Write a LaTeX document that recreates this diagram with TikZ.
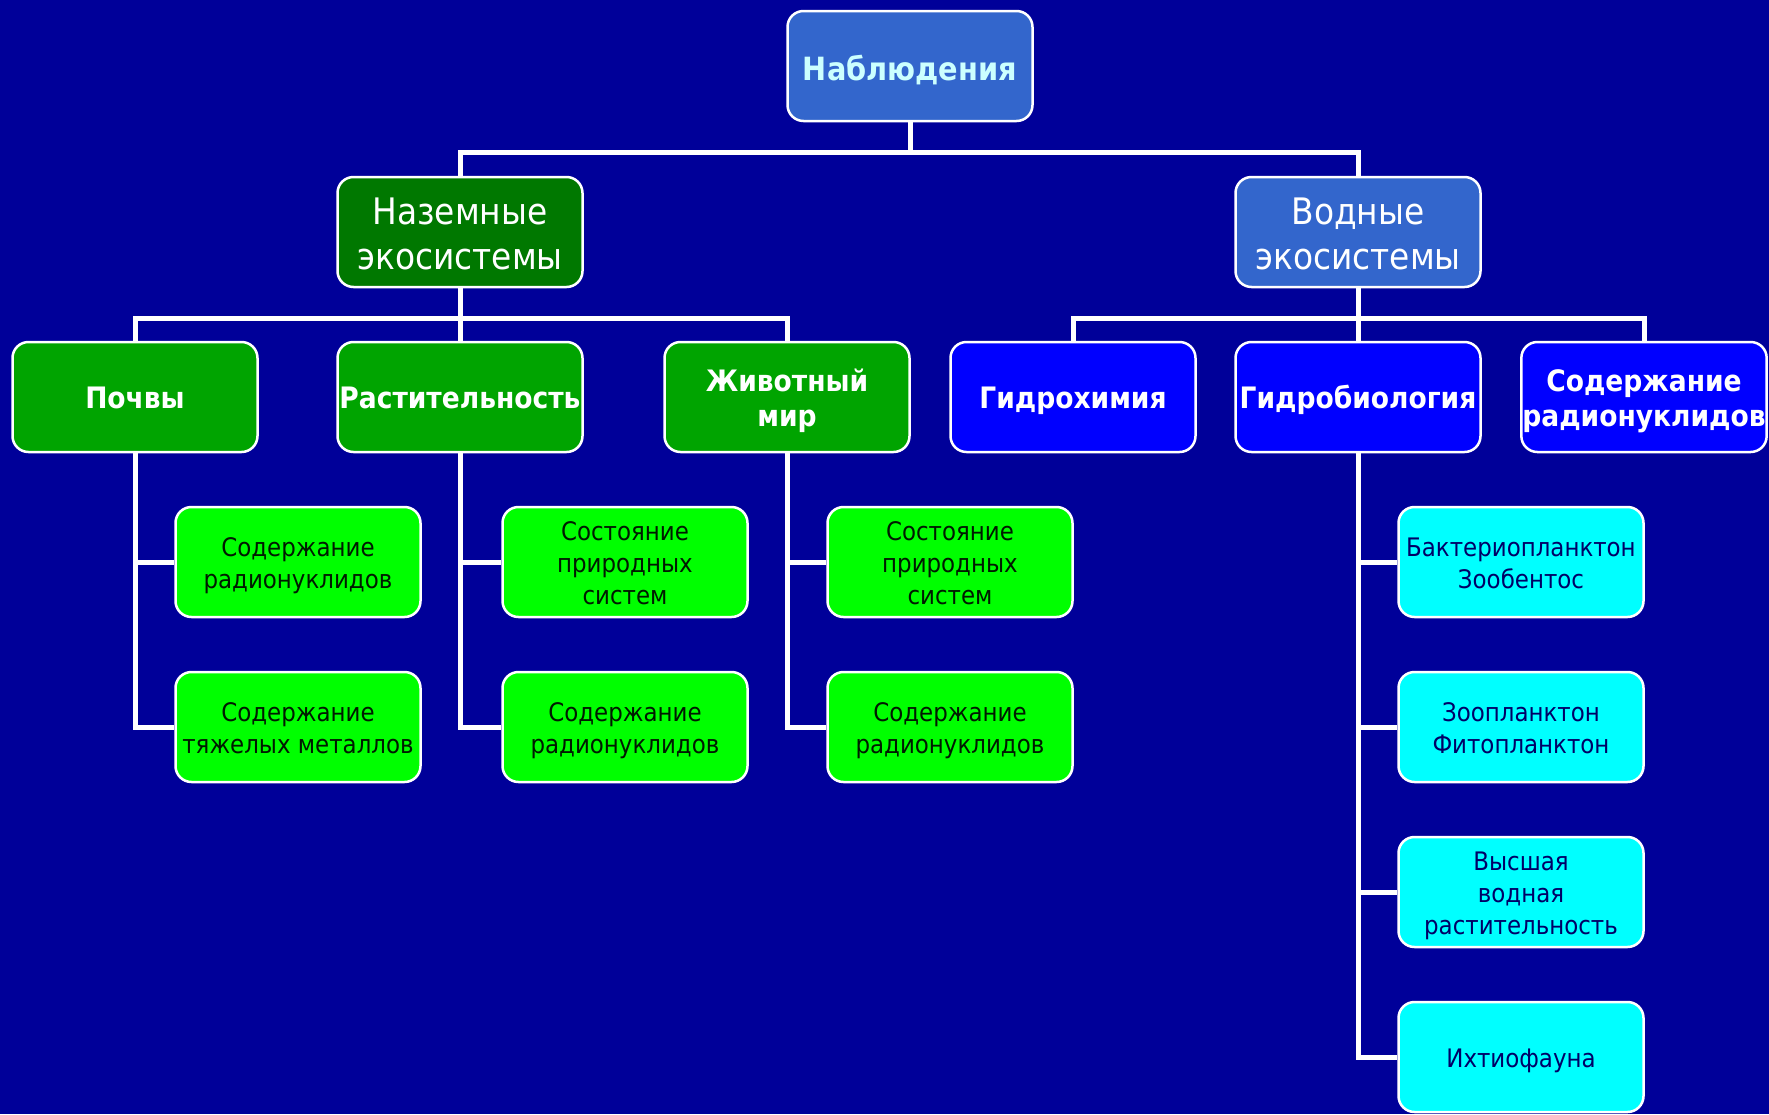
\documentclass[tikz,border=0pt]{standalone}
\usepackage{fontspec}
\setmainfont{DejaVu Sans Condensed}
\usetikzlibrary{backgrounds}
\definecolor{bgblue}{HTML}{000099}
\definecolor{midblue}{HTML}{3366CC}
\definecolor{pale}{HTML}{CCFFFF}
\definecolor{darkgr}{HTML}{007800}
\definecolor{medgr}{HTML}{00A400}
\definecolor{puregr}{HTML}{00FF00}
\definecolor{pureblue}{HTML}{0000FF}
\definecolor{cyanbox}{HTML}{00FFFF}
\definecolor{gtext}{HTML}{001A00}
\definecolor{ctext}{HTML}{000066}
\newcommand{\boxtxt}[2][-4.5pt]{\raisebox{#1}[\height][\depth]{\begin{tabular}{@{}c@{}}#2\end{tabular}}}
\begin{document}
\begin{tikzpicture}[x=1pt,y=-1pt,
  box/.style={rectangle, rounded corners=16pt, draw=white, line width=2.5pt,
    minimum width=245pt, minimum height=110pt, inner sep=1pt},
  lvlone/.style={box, fill=midblue, text=pale, font=\fontsize{32}{36}\selectfont\bfseries},
  lvltwoG/.style={box, fill=darkgr, text=white, font=\fontsize{36.5}{45}\selectfont},
  lvltwoB/.style={box, fill=midblue, text=white, font=\fontsize{36.5}{45}\selectfont},
  lvlthreeG/.style={box, fill=medgr, text=white, font=\fontsize{29.5}{35}\selectfont\bfseries},
  lvlthreeB/.style={box, fill=pureblue, text=white, font=\fontsize{29.5}{35}\selectfont\bfseries},
  leafG/.style={box, fill=puregr, text=gtext, font=\fontsize{25.5}{32}\selectfont},
  leafC/.style={box, fill=cyanbox, text=ctext, font=\fontsize{25.5}{32}\selectfont},
  conn/.style={draw=white, line width=5pt, line join=miter}]
\useasboundingbox (0,0) rectangle (1769,1114);
% level 1
\node[lvlone] (root) at (910,66) {\boxtxt[-7pt]{Наблюдения}};
% level 2
\node[lvltwoG] (land) at (460,232) {\boxtxt[-5.5pt]{Наземные\\экосистемы}};
\node[lvltwoB] (water) at (1358,232) {\boxtxt[-5.5pt]{Водные\\экосистемы}};
% level 3
\node[lvlthreeG] (soil) at (135,397) {\boxtxt{Почвы}};
\node[lvlthreeG] (veg) at (460,397) {\boxtxt{Растительность}};
\node[lvlthreeG] (fauna) at (787,397) {\boxtxt{Животный\\мир}};
\node[lvlthreeB] (hchem) at (1073,397) {\boxtxt{Гидрохимия}};
\node[lvlthreeB] (hbio) at (1358,397) {\boxtxt{Гидробиология}};
\node[lvlthreeB] (hrad) at (1644,397) {\boxtxt{Содержание\\радионуклидов}};
% level 4
\node[leafG] (s1) at (298,562) {\boxtxt{Содержание\\радионуклидов}};
\node[leafG] (s2) at (298,727) {\boxtxt{Содержание\\тяжелых металлов}};
\node[leafG] (v1) at (625,562) {\boxtxt{Состояние\\природных\\систем}};
\node[leafG] (v2) at (625,727) {\boxtxt{Содержание\\радионуклидов}};
\node[leafG] (f1) at (950,562) {\boxtxt{Состояние\\природных\\систем}};
\node[leafG] (f2) at (950,727) {\boxtxt{Содержание\\радионуклидов}};
\node[leafC] (b1) at (1521,562) {\boxtxt{Бактериопланктон\\Зообентос}};
\node[leafC] (b2) at (1521,727) {\boxtxt{Зоопланктон\\Фитопланктон}};
\node[leafC] (b3) at (1521,892) {\boxtxt{Высшая\\водная\\растительность}};
\node[leafC] (b4) at (1521,1057) {\boxtxt{Ихтиофауна}};
% bus points
\coordinate (busA) at (910,152);
\coordinate (busL) at (460,318);
\coordinate (busR) at (1358,318);
\begin{scope}[on background layer]
\fill[bgblue] (0,0) rectangle (1769,1114);
\draw[conn] (root.south) -- (busA);
\draw[conn] (land.north) |- (busA) -| (water.north);
\draw[conn] (land.south) -- (busL);
\draw[conn] (soil.north) |- (busL) -| (fauna.north);
\draw[conn] (veg.north) -- (busL);
\draw[conn] (water.south) -- (busR);
\draw[conn] (hchem.north) |- (busR) -| (hrad.north);
\draw[conn] (hbio.north) -- (busR);
\draw[conn] (soil.south) |- (s1.west);
\draw[conn] (soil.south) |- (s2.west);
\draw[conn] (veg.south) |- (v1.west);
\draw[conn] (veg.south) |- (v2.west);
\draw[conn] (fauna.south) |- (f1.west);
\draw[conn] (fauna.south) |- (f2.west);
\draw[conn] (hbio.south) |- (b1.west);
\draw[conn] (hbio.south) |- (b2.west);
\draw[conn] (hbio.south) |- (b3.west);
\draw[conn] (hbio.south) |- (b4.west);
\end{scope}
\end{tikzpicture}
\end{document}
